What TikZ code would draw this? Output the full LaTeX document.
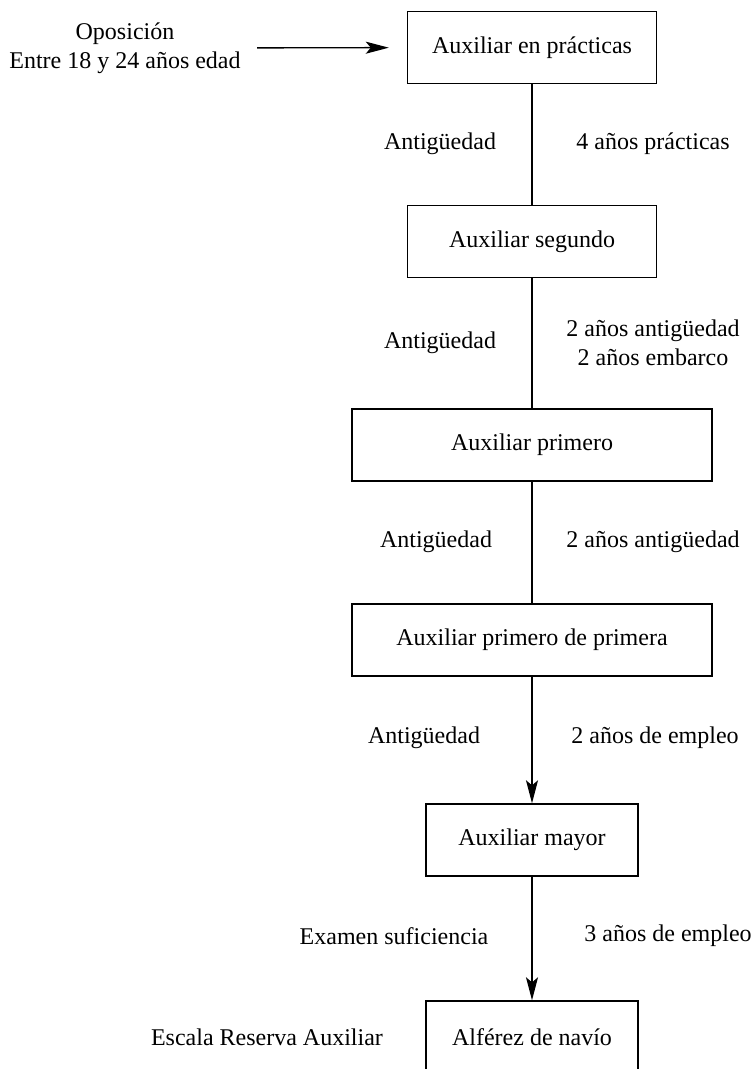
\documentclass[tikz,border=0pt]{standalone}
\usepackage{fontspec}
\setmainfont{Liberation Serif}
\usetikzlibrary{arrows.meta}

\begin{document}
\begin{tikzpicture}[
            x = 0.5pt, y = -0.5pt,
            font = \fontsize{12pt}{14.4pt}\selectfont,
            rank/.style = {draw, line width = 0.7pt, minimum height = 36pt, inner sep = 0mm},
            narrow/.style = {rank, minimum width = 124.5pt},
            wide/.style = {rank, minimum width = 180pt},
            short/.style = {rank, minimum width = 106pt},
            lbl/.style = {align = center, inner sep = 0mm},
            line/.style = {draw, line width = 0.7pt},
            arr/.style = {draw, line width = 0.7pt, -{Stealth[length = 11.5pt, width = 6pt, inset = 2.5pt]}},
        ]
        \useasboundingbox (0,0) rectangle (755,1069);
        \clip (0,0) rectangle (755,1069);

        \node (OPO) [lbl] at (125, 48) {Oposición\\Entre 18 y 24 años edad};

        \node (AP) [narrow] at (532, 47.5) {Auxiliar en prácticas};
        \node (AS) [narrow] at (532, 241.5) {Auxiliar segundo};
        \node (A1) [wide] at (532, 445) {Auxiliar primero};
        \node (A11) [wide] at (532, 640) {Auxiliar primero de primera};
        \node (AM) [short] at (532, 840) {Auxiliar mayor};
        \node (AN) [short] at (532, 1037) {Alférez de navío};

        \node (L1) [lbl] at (440, 144) {Antigüedad};
        \node (R1) [lbl] at (653, 144) {4 años prácticas};
        \node (L2) [lbl] at (440, 343) {Antigüedad};
        \node (R2) [lbl] at (653, 343) {2 años antigüedad\\2 años embarco};
        \node (L3) [lbl] at (436, 542) {Antigüedad};
        \node (R3) [lbl] at (653, 542) {2 años antigüedad};
        \node (L4) [lbl] at (424, 738) {Antigüedad};
        \node (R4) [lbl] at (655, 738) {2 años de empleo};
        \node (L5) [lbl] at (394, 936) {Examen suficiencia};
        \node (R5) [lbl] at (668, 936) {3 años de empleo};
        \node (ESC) [lbl] at (267, 1037) {Escala Reserva Auxiliar};

        \path[arr, shorten < = 8pt, shorten > = 9pt] (OPO) -- (AP);

        \path[line] (AP) -- (AS);
        \path[line] (AS) -- (A1);
        \path[line] (A1) -- (A11);
        \path[arr] (A11) -- (AM);
        \path[arr] (AM) -- (AN);
    \end{tikzpicture}
\end{document}
